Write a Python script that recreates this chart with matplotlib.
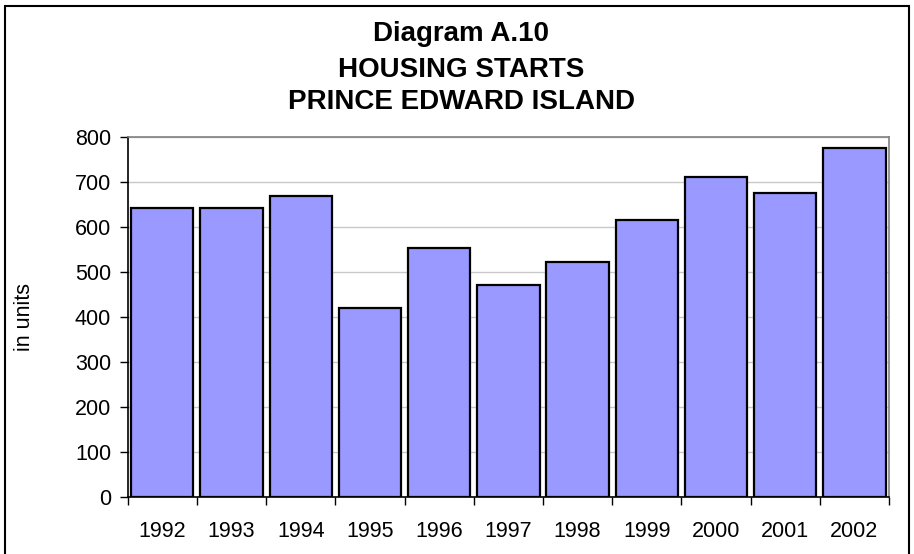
import matplotlib.pyplot as plt
from matplotlib.patches import Rectangle

years = ['1992', '1993', '1994', '1995', '1996', '1997',
         '1998', '1999', '2000', '2001', '2002']
starts = [643, 643, 670, 420, 554, 471, 522, 615, 712, 675, 776]
title_lines = ['Diagram A.10', 'HOUSING STARTS', 'PRINCE EDWARD ISLAND']

plt.rcParams['font.family'] = ['Liberation Sans', 'DejaVu Sans']

fig = plt.figure(figsize=(9.14, 5.54), dpi=100)
ax = fig.add_axes([0.1397, 0.1029, 0.8330, 0.6498])

x = range(len(years))
ax.bar(x, starts, width=0.9, color='#9999FF', edgecolor='black',
       linewidth=1.6, zorder=3)

ax.set_xlim(-0.5, len(years) - 0.5)
ax.set_ylim(0, 800)
ax.set_yticks(range(0, 801, 100))
ax.grid(axis='y', color='#c8c8c8', linewidth=1, zorder=0)

# ticks sit between the categories, labels at the bar centres
ax.set_xticks([i - 0.5 for i in range(len(years) + 1)])
ax.set_xticklabels([])
ax.set_xticks(list(x), minor=True)
ax.set_xticklabels(years, minor=True, fontsize=15.5)
ax.tick_params(axis='x', which='major', direction='out', length=6, width=1)
ax.tick_params(axis='x', which='minor', length=0, pad=17)
ax.tick_params(axis='y', direction='out', length=6, width=1, labelsize=15.5, pad=6)

ax.spines['left'].set_color('black')
ax.spines['bottom'].set_color('black')
ax.spines['top'].set_color('#808080')
ax.spines['right'].set_color('#808080')
for s in ax.spines.values():
    s.set_linewidth(1.2)
    s.set_zorder(4)

fig.text(25 / 914, 1 - 317 / 554, 'in units', rotation=90, fontsize=15.5,
         ha='center', va='center')

# three title lines placed on their baselines
for yb, line in zip([41, 77, 109], title_lines):
    fig.text(461 / 914, 1 - yb / 554, line, fontsize=20, fontweight='bold',
             ha='center', va='baseline')

# outer frame around the whole chart
fig.patches.append(Rectangle((5 / 914, -0.01), 904 / 914, 1 - 6 / 554 + 0.01,
                             transform=fig.transFigure, fill=False,
                             edgecolor='black', linewidth=1.5))

fig.savefig('out.png', dpi=100)
